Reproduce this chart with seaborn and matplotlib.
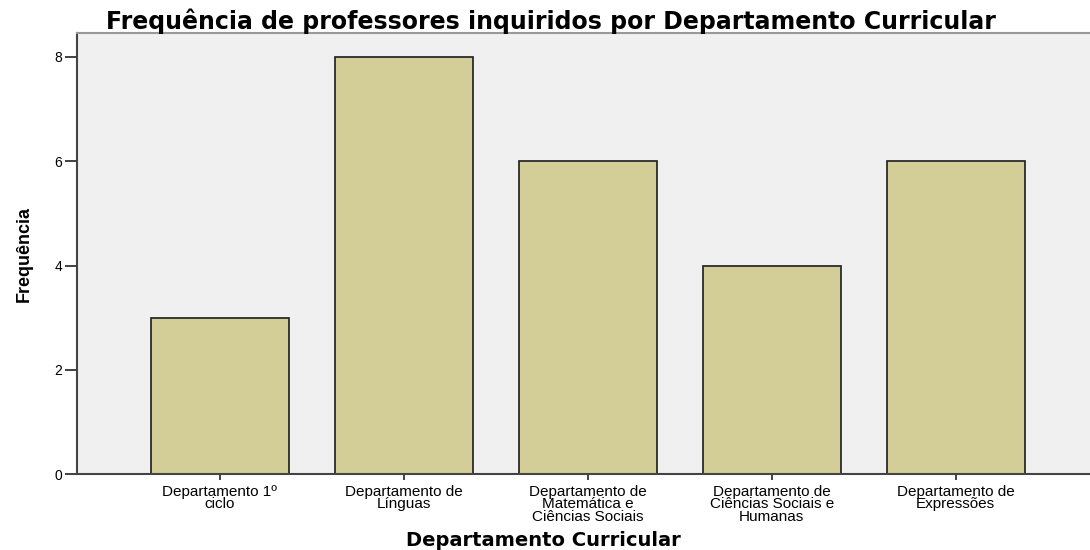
import pandas as pd
import seaborn as sns
import matplotlib.pyplot as plt

departamentos = [
    "Departamento 1º\nciclo",
    "Departamento de\nLínguas",
    "Departamento de\nMatemática e\nCiências Sociais",
    "Departamento de\nCiências Sociais e\nHumanas",
    "Departamento de\nExpressões",
]
frequencias = [3, 8, 6, 4, 6]
y_ticks = [0, 2, 4, 6, 8]

df = pd.DataFrame({"Departamento": departamentos, "Frequência": frequencias})

sns.set_style("white")
plt.rcParams["font.family"] = ["Liberation Sans", "DejaVu Sans"]
plt.rcParams["text.color"] = "black"
plt.rcParams["xtick.color"] = "#333333"
plt.rcParams["ytick.color"] = "#333333"
plt.rcParams["xtick.labelcolor"] = "black"
plt.rcParams["ytick.labelcolor"] = "black"

fig = plt.figure(figsize=(10.9, 5.5), dpi=100)
ax = fig.add_axes([0.0706, 0.138, 0.9294, 0.802])
ax.set_facecolor("#f0f0f0")

sns.barplot(data=df, x="Departamento", y="Frequência", color="#d3ce97",
            edgecolor="#2b2b2b", linewidth=1.3, width=0.75, saturation=1, ax=ax)

ax.set_xlim(-0.777, 4.73)
ax.set_ylim(0, 8.46)
ax.set_yticks(y_ticks)
ax.set_yticklabels([str(v) for v in y_ticks], fontsize=10)
ax.tick_params(axis="y", left=True, length=8.5, width=1.3, pad=2)
ax.tick_params(axis="x", bottom=True, length=4.5, width=1.3, pad=3)
for lab in ax.get_xticklabels():
    lab.set_fontsize(11)
    lab.set_linespacing(0.9)

for side in ["left", "bottom"]:
    ax.spines[side].set_color("#444444")
    ax.spines[side].set_linewidth(1.5)
ax.spines["top"].set_color("#999999")
ax.spines["top"].set_linewidth(1.5)
ax.spines["right"].set_visible(False)

ax.set_xlabel("Departamento Curricular", fontsize=14, fontweight="bold",
              family=["DejaVu Sans"], color="black")
ax.xaxis.set_label_coords(0.46, -0.128)
ax.set_ylabel("Frequência", fontsize=13, fontweight="bold",
              family=["Liberation Sans Narrow", "Liberation Sans", "DejaVu Sans"],
              color="black", labelpad=16)

fig.text(0.505, 0.947, "Frequência de professores inquiridos por Departamento Curricular",
         fontsize=17, fontweight="bold", family=["DejaVu Sans"], color="black",
         ha="center", va="baseline")

fig.savefig("out.png", dpi=100)
